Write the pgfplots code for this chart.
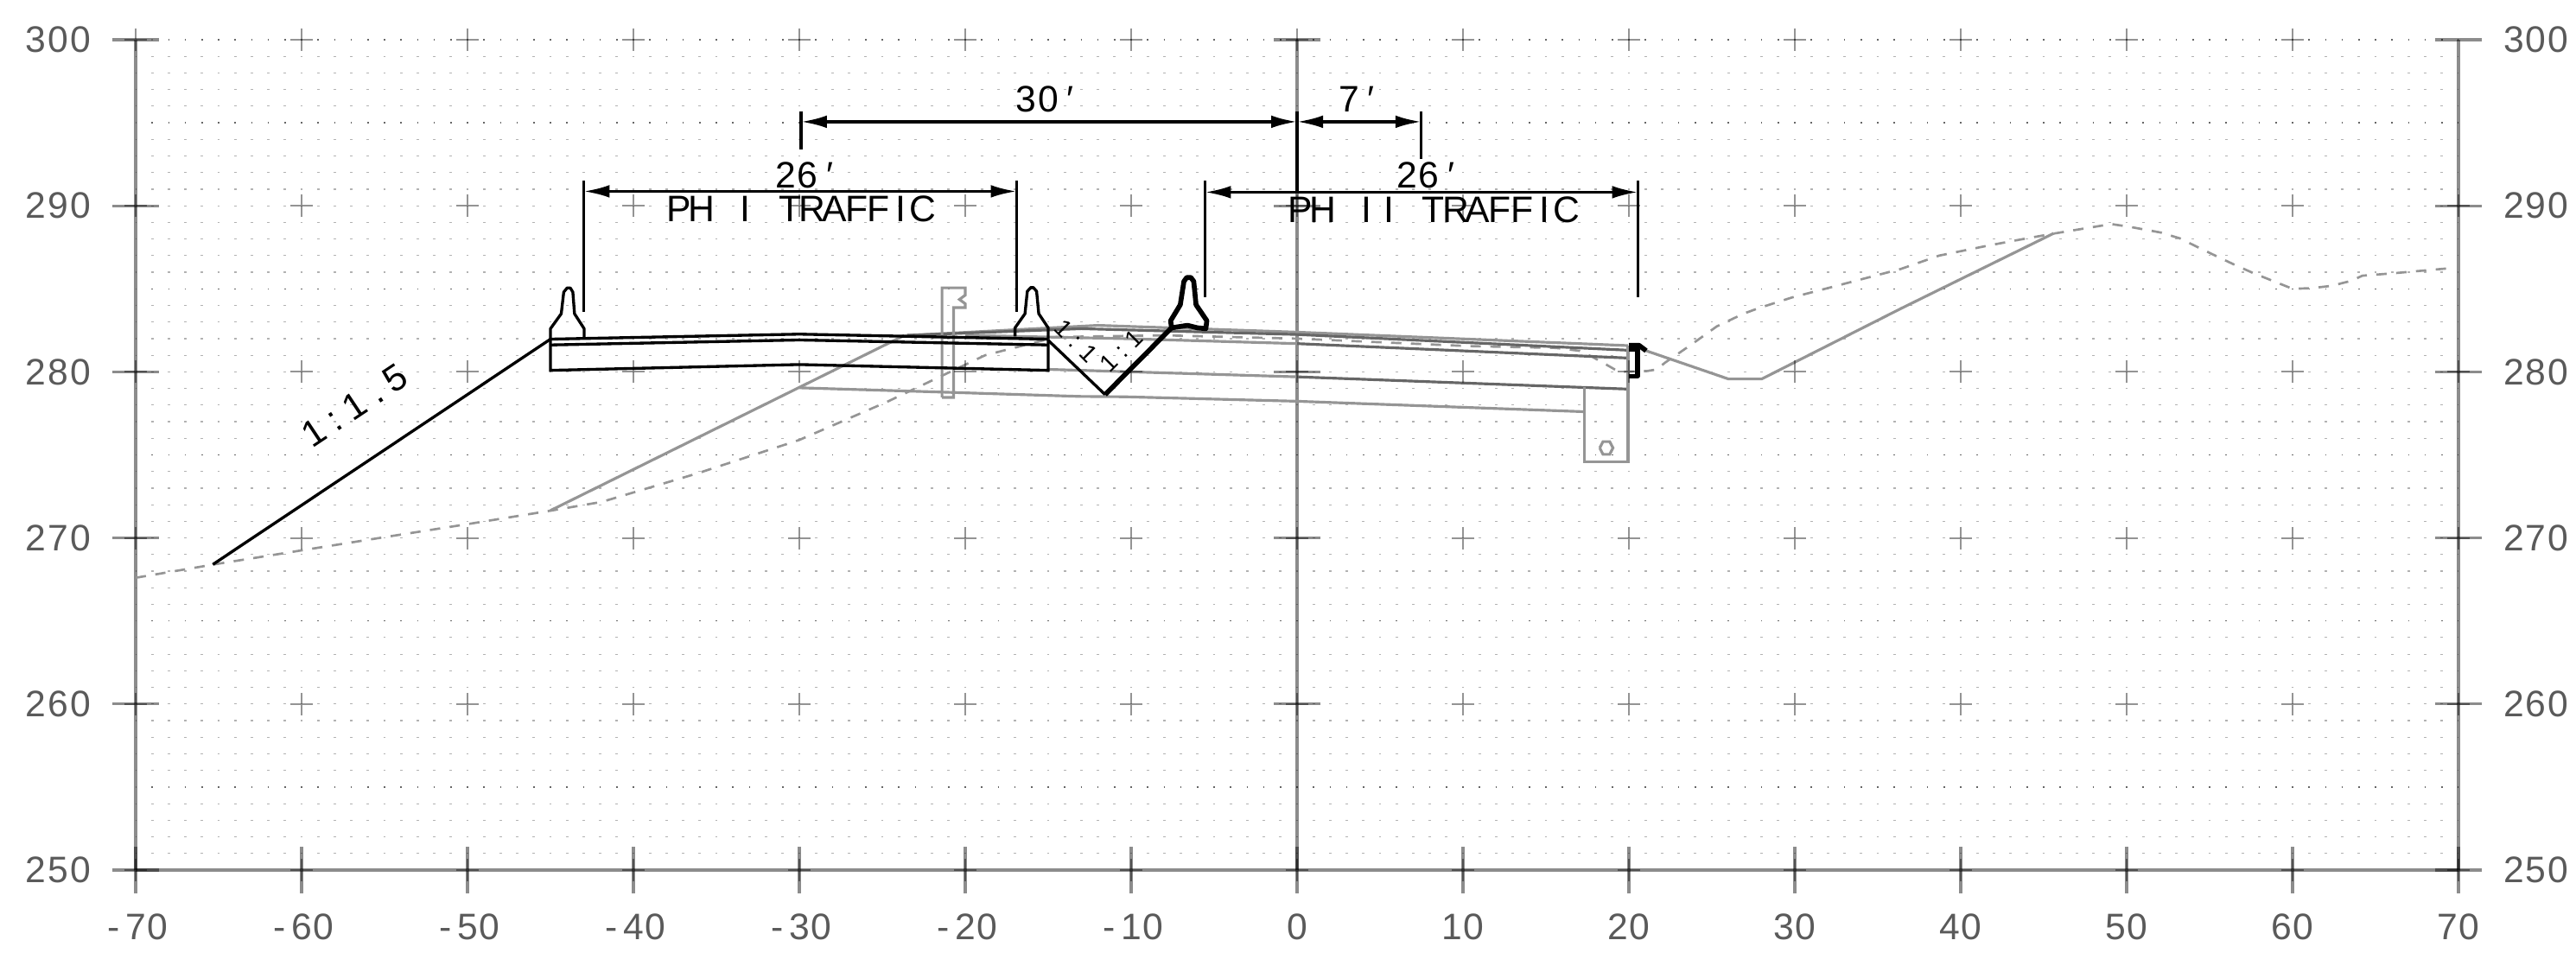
\documentclass[border=0pt]{standalone}
\usepackage{fontspec}
\setmainfont{Liberation Sans}
\usepackage{pgfplots}
\pgfplotsset{compat=1.18}
\usetikzlibrary{arrows.meta}
\newlength\cw
\setlength\cw{7.7pt}
\protected\def\cells#1{\cellsaux#1\relax}
\protected\def\cellsaux#1{\ifx#1\relax\else\makebox[\cw][c]{#1}\expandafter\cellsaux\fi}
\definecolor{lab}{HTML}{5A5A5A}
\definecolor{gl}{HTML}{959595}
\definecolor{gd}{HTML}{666666}
\tikzset{
  txt/.style={inner sep=0pt,font=\fontsize{12.8}{13}\selectfont,black},
  txts/.style={inner sep=0pt,font=\fontsize{8.5}{9}\selectfont,black},
}
\pgfplotsset{
  base/.style={
    scale only axis, width=806.4pt, height=288.3pt,
    xmin=-70, xmax=70, ymin=250, ymax=300,
    clip=false,
    axis line style={draw=black,draw opacity=.45,line width=.95pt},
    tick align=center,
    major tick length=16.2pt,
    minor tick length=0pt,
    major tick style={draw=black,draw opacity=.45,line width=.95pt},
    ytick={250,260,270,280,290,300},
    tick label style={font=\fontsize{12.8}{13}\selectfont,text=lab,inner sep=0pt},
    yticklabels={\cells{250},\cells{260},\cells{270},\cells{280},\cells{290},\cells{300}},
  },
  cad/.style={line width=1pt,black,mark=none},
  cadt/.style={line width=1.7pt,black,mark=none,line join=round},
  pg/.style={line width=.95pt,gl,mark=none},
  pd/.style={line width=.95pt,gd,mark=none},
  dim/.style={line width=1pt,black,mark=none,{Latex[length=9pt,width=4.4pt]}-{Latex[length=9pt,width=4.4pt]}},
}
\begin{document}
\begin{tikzpicture}
\useasboundingbox (-47.1pt,-28.8pt) rectangle (847.2pt,302.1pt);
\begin{axis}[base,
  axis x line*=bottom, axis y line*=left,
  xtick={-70,-60,-50,-40,-30,-20,-10,0,10,20,30,40,50,60,70},
  xticklabels={\cells{-70},\cells{-60},\cells{-50},\cells{-40},\cells{-30},\cells{-20},\cells{-10},\cells{0},\cells{10},\cells{20},\cells{30},\cells{40},\cells{50},\cells{60},\cells{70}},
  xticklabel style={anchor=north,yshift=-7pt},
  yticklabel style={anchor=east,xshift=-7pt},
  minor ytick={251,252,253,254,256,257,258,259,260,261,262,263,264,266,267,268,269,270,271,272,273,274,276,277,278,279,280,281,282,283,284,286,287,288,289,290,291,292,293,294,296,297,298,299},
  yminorgrids=true,
  minor grid style={draw=black!30,line width=.35pt,dash pattern=on .8pt off 4.96pt,dash phase=.4pt},
  extra y ticks={255,265,275,285,295,300},
  extra y tick labels={},
  extra y tick style={ymajorgrids=true,major tick length=0pt,
    major grid style={draw=black!60,line width=.4pt,dash pattern=on .5pt off 5.26pt,dash phase=.25pt}},
]
% grid crosses
\addplot[only marks,mark=+,mark size=3.9pt,mark options={draw=black,draw opacity=.42,line width=.6pt}] coordinates {
(-70,250)(-60,250)(-50,250)(-40,250)(-30,250)(-20,250)(-10,250)(0,250)(10,250)(20,250)(30,250)(40,250)(50,250)(60,250)(70,250)
(-70,260)(-60,260)(-50,260)(-40,260)(-30,260)(-20,260)(-10,260)(0,260)(10,260)(20,260)(30,260)(40,260)(50,260)(60,260)(70,260)
(-70,270)(-60,270)(-50,270)(-40,270)(-30,270)(-20,270)(-10,270)(0,270)(10,270)(20,270)(30,270)(40,270)(50,270)(60,270)(70,270)
(-70,280)(-60,280)(-50,280)(-40,280)(-30,280)(-20,280)(-10,280)(0,280)(10,280)(20,280)(30,280)(40,280)(50,280)(60,280)(70,280)
(-70,290)(-60,290)(-50,290)(-40,290)(-30,290)(-20,290)(-10,290)(0,290)(10,290)(20,290)(30,290)(40,290)(50,290)(60,290)(70,290)
(-70,300)(-60,300)(-50,300)(-40,300)(-30,300)(-20,300)(-10,300)(0,300)(10,300)(20,300)(30,300)(40,300)(50,300)(60,300)
};
% centre line and its ticks
\addplot[line width=.95pt,black,opacity=.45,mark=none] coordinates {(0,250)(0,300)};
\addplot[only marks,mark=-,mark size=8.1pt,mark options={draw=black,draw opacity=.45,line width=.95pt}] coordinates {(0,260)(0,270)(0,280)(0,290)(0,300)};
% existing ground (dashed)
\addplot[line width=.8pt,gl,mark=none,dash pattern=on 3.6pt off 3.3pt] coordinates {
(-70,267.6)(-65,268.45)(-62.55,268.84)(-60,269.25)(-55.1,270.03)(-50,270.83)(-44.93,271.65)(-41.9,272.17)(-36.1,273.9)(-30,275.9)(-24.7,278.2)(-18.8,281)(-14.5,282.1)(-8,282.2)(0,282)(10.35,281.55)(15.6,281.44)(17,281.27)(17.8,280.9)(18.7,280.4)(19.4,280)(21.1,280.05)(21.65,280.14)(22.2,280.57)(23.7,281.6)(25.3,282.74)(26.9,283.5)(27.8,283.83)(29.8,284.47)(36.4,286.2)(38.7,287)(41.63,287.6)(43.5,287.95)(45.44,288.3)(49.07,288.9)(50.2,288.73)(52.05,288.39)(53.2,288.04)(54.3,287.5)(55.4,286.97)(56.5,286.45)(57.6,285.96)(58.8,285.48)(60,285)(61.15,285.04)(62.35,285.18)(63.57,285.49)(64.2,285.79)(66,285.93)(69.7,286.26)};
% proposed gray section
\addplot[pg] coordinates {(-45,271.65)(-23.7,282.18)(-12,282.8)(0,282.39)(19.95,281.58)};
\addplot[pd] coordinates {(-23.5,282.2)(-13,282.6)(0,282.25)(20,281.3)};
\addplot[pg] coordinates {(-20,282.2)(-10.4,282)(0,281.7)};
\addplot[pd] coordinates {(0,281.7)(20,280.83)};
\addplot[pg] coordinates {(-15,280.15)(-10,280)(0,279.7)};
\addplot[pd] coordinates {(0,279.7)(20,278.96)};
\addplot[pg] coordinates {(-30,279.04)(-21.4,278.78)(-13.1,278.52)(-10.44,278.5)(0,278.23)(17.3,277.6)};
\addplot[pg] coordinates {(17.3,279.1)(17.3,274.6)(19.95,274.6)(19.95,281.58)};
\addplot[pg] coordinates {(18.24,275.42)(18.44,275.8)(18.84,275.8)(19.04,275.42)(18.84,275.03)(18.44,275.03)(18.24,275.42)};
\addplot[pg] coordinates {(-21.4,278.46)(-21.4,285.06)(-20,285.06)(-20,284.62)(-20.35,284.36)(-20,284.1)(-20,283.87)(-20.7,283.87)(-20.7,278.46)(-21.4,278.46)};
\addplot[pg] coordinates {(21.04,281.27)(26,279.57)(28,279.57)(36.43,283.83)(45.6,288.34)};
% design section (black)
\addplot[cad] coordinates {(-65.35,268.4)(-45,281.97)};
\addplot[cad] coordinates {(-45,281.97)(-30,282.27)(-15,281.97)};
\addplot[cad] coordinates {(-45,281.62)(-30,281.92)(-15,281.62)};
\addplot[cad] coordinates {(-45,281.97)(-45,280.09)(-30,280.44)(-15,280.09)(-15,281.97)};
\addplot[cad,line join=round] coordinates {(-45,282)(-45,282.6)(-44.35,283.5)(-44.2,284.8)(-44,285.05)(-43.8,285.05)(-43.65,284.8)(-43.55,283.5)(-42.97,282.6)(-42.97,282)};
\addplot[cad,line join=round] coordinates {(-17,282.13)(-17,282.65)(-16.4,283.5)(-16.26,284.85)(-16.05,285.08)(-15.9,285.08)(-15.7,284.85)(-15.57,283.5)(-15,282.65)(-15,281.97)};
\addplot[cad] coordinates {(-15,281.9)(-11.57,278.63)};
\addplot[cadt] coordinates {(-11.57,278.63)(-7.57,282.65)};
\addplot[cadt] coordinates {(-7.57,282.65)(-7.62,283.08)(-7.04,284.04)(-6.82,285.45)(-6.65,285.68)(-6.4,285.68)(-6.23,285.45)(-6.09,284.04)(-5.44,283.08)(-5.5,282.6)(-6,282.65)(-6.6,282.8)(-7.57,282.65)};
\addplot[cadt] coordinates {(20,281.6)(20.6,281.6)(21.04,281.27)};
\addplot[cadt] coordinates {(20,281.35)(20.52,281.35)(20.52,279.74)(20,279.74)};
% dimensions
\addplot[cad] coordinates {(-43,291.5)(-43,283.6)};
\addplot[cad] coordinates {(-16.9,291.5)(-16.9,283.6)};
\addplot[cad] coordinates {(-5.55,291.5)(-5.55,284.47)};
\addplot[cad] coordinates {(20.55,291.5)(20.55,284.52)};
\addplot[cad] coordinates {(-29.9,295.7)(-29.9,293.4)};
\addplot[cad] coordinates {(0,295.7)(0,290.87)};
\addplot[cad] coordinates {(7.49,295.7)(7.49,292.8)};
\addplot[dim] coordinates {(-43,290.87)(-16.9,290.87)};
\addplot[dim] coordinates {(-5.55,290.82)(20.55,290.82)};
\addplot[dim] coordinates {(-29.9,295.06)(0,295.06)};
\addplot[dim] coordinates {(0,295.06)(7.49,295.06)};
\node[txt,anchor=base] at (axis cs:-15,295.63) {\cells{30′}};
\node[txt,anchor=base] at (axis cs:3.8,295.68) {\cells{7′}};
\node[txt,anchor=base] at (axis cs:-29.5,291.08) {\cells{26′}};
\node[txt,anchor=base] at (axis cs:7.95,291.05) {\cells{26′}};
\node[txt,anchor=base] at (axis cs:-29.9,289.04) {\cells{PH~I~TRAFFIC}};
\node[txt,anchor=base] at (axis cs:8.22,288.97) {\cells{PH~II~TRAFFIC}};
\node[txt,rotate=33.7] at (axis cs:-56.8,277.97) {\addfontfeature{LetterSpace=25}1:1.5};
\node[txts,rotate=-45] at (axis cs:-13.3,281.87) {\addfontfeature{LetterSpace=30}1:1};
\node[txts,rotate=45] at (axis cs:-10.6,281.27) {\addfontfeature{LetterSpace=30}1:1};
\end{axis}
\begin{axis}[base,
  axis x line=none, axis y line*=right,
  xtick=\empty,
  yticklabel style={anchor=west,xshift=7pt},
]
\addplot[draw=none] coordinates {(70,250)(70,300)};
\end{axis}
\end{tikzpicture}
\end{document}
